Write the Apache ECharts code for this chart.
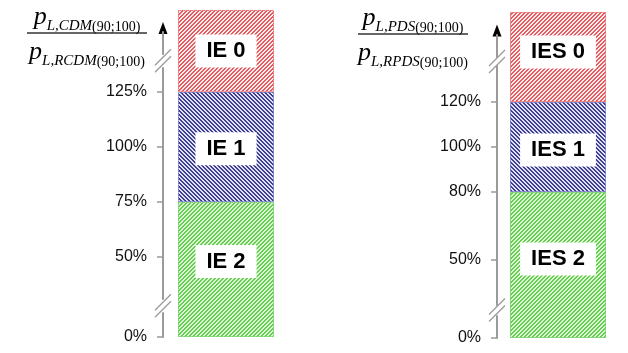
<!DOCTYPE html>
<html>
<head>
<meta charset="utf-8">
<script src="https://cdn.jsdelivr.net/npm/echarts@6/dist/echarts.min.js"></script>
<style>
html,body{margin:0;padding:0;background:#fff;}
#chart{width:628px;height:353px;}
</style>
</head>
<body>
<div id="chart"></div>
<script>
// ---- data ----
const leftNames = ['IE 2', 'IE 1', 'IE 0'];
const leftValues = [75, 50, 75];          // stacked segments: 0-75, 75-125, 125-200
const leftTicks = [0, 50, 75, 100, 125];
const leftBreaks = [[11, 31, 6.4], [136, 180, 6.2]];
const leftMax = 190;

const rightNames = ['IES 2', 'IES 1', 'IES 0'];
const rightValues = [80, 40, 80];         // 0-80, 80-120, 120-200
const rightTicks = [0, 50, 80, 100, 120];
const rightBreaks = [[10, 30, 4.9], [136, 180, 4.0]];
const rightMax = 190;

const leftTitleNum = '{p|p}{s|L,CDM}{n|(90;100)}';
const leftTitleDen = '{p|p}{s|L,RCDM}{n|(90;100)}';
const rightTitleNum = '{p|p}{s|L,PDS}{n|(90;100)}';
const rightTitleDen = '{p|p}{s|L,RPDS}{n|(90;100)}';

// ---- hatch patterns ----
function hatch(line, bg, dir) {
  const c = document.createElement('canvas');
  c.width = 4; c.height = 4;
  const ctx = c.getContext('2d');
  for (let x = 0; x < 4; x++) {
    for (let y = 0; y < 4; y++) {
      const k = dir === '/' ? (x + y) % 4 : ((x - y) % 4 + 4) % 4;
      ctx.fillStyle = (k === 0 || k === 1) ? line : bg;
      ctx.fillRect(x, y, 1, 1);
    }
  }
  return { image: c, repeat: 'repeat' };
}
const segStyles = [
  { fill: hatch('#66cc55', '#dcf7d2', '/'), border: '#3cbf2c' },
  { fill: hatch('#40408e', '#e0e0f4', '\\'), border: '#4a4ac8' },
  { fill: hatch('#e65a62', '#fdeeee', '/'), border: '#e03a3a' }
];
const labelOffsets = { 'IE 2': -8, 'IE 1': 2, 'IE 0': 0, 'IES 2': -6, 'IES 1': 3, 'IES 0': -5 };

const chart = echarts.init(document.getElementById('chart'), null, { renderer: 'canvas' });

function makeYAxis(gi, ticks, breaks, max) {
  return {
    type: 'value', gridIndex: gi, min: 0, max: max,
    breaks: breaks.map(b => ({ start: b[0], end: b[1], gap: b[2] })),
    breakArea: { show: false },
    splitLine: { show: false },
    axisLine: { show: true, lineStyle: { color: '#9a9a9a', width: 2 } },
    axisTick: { show: true, inside: false, length: 6, customValues: ticks, lineStyle: { color: '#9a9a9a', width: 1.5 } },
    axisLabel: {
      customValues: ticks, formatter: v => v + '%', margin: 16,
      fontSize: 16, color: '#111', fontFamily: 'Liberation Sans, Arial, sans-serif'
    }
  };
}

function makeSeries(names, values, gi) {
  return names.map((n, i) => ({
    type: 'bar', name: n, stack: 'st' + gi, xAxisIndex: gi, yAxisIndex: gi,
    data: [values[i]], barWidth: 96, clip: false,
    itemStyle: { color: segStyles[i].fill, borderColor: segStyles[i].border, borderType: 'dotted', borderWidth: 1 },
    label: {
      show: true, position: 'inside', formatter: '{a}', offset: [0, labelOffsets[n]],
      backgroundColor: '#fff', padding: [6, 11, 5, 11],
      fontSize: 22, fontWeight: 'bold', color: '#000', fontFamily: 'Liberation Sans, Arial, sans-serif'
    }
  }));
}

chart.setOption({
  animation: false,
  backgroundColor: '#fff',
  grid: [
    { left: 163, width: 126, top: 32, bottom: 16 },
    { left: 497, width: 122, top: 34.5, bottom: 15 }
  ],
  xAxis: [
    { type: 'category', gridIndex: 0, data: ['L'], show: false },
    { type: 'category', gridIndex: 1, data: ['R'], show: false }
  ],
  yAxis: [
    makeYAxis(0, leftTicks, leftBreaks, leftMax),
    makeYAxis(1, rightTicks, rightBreaks, rightMax)
  ],
  series: makeSeries(leftNames, leftValues, 0).concat(makeSeries(rightNames, rightValues, 1))
});

// ---- decorations: axis arrows, break marks, fraction titles ----
const rich = {
  p: { fontFamily: 'Liberation Serif, Times New Roman, serif', fontStyle: 'italic', fontSize: 26, lineHeight: 30, verticalAlign: 'top', color: '#111' },
  s: { fontFamily: 'Liberation Serif, Times New Roman, serif', fontStyle: 'italic', fontSize: 15, lineHeight: 8, verticalAlign: 'bottom', color: '#111' },
  n: { fontFamily: 'Liberation Serif, Times New Roman, serif', fontSize: 14, lineHeight: 8, verticalAlign: 'bottom', color: '#111' }
};
function decorations(gi, axisX, breaks, max, title) {
  const els = [];
  const topY = chart.convertToPixel({ yAxisIndex: gi }, max);
  els.push({ type: 'polygon', shape: { points: [[axisX - 4.5, topY + 2], [axisX + 4.5, topY + 2], [axisX, topY - 10]] }, style: { fill: '#000' } });
  breaks.forEach(b => {
    const y1 = chart.convertToPixel({ yAxisIndex: gi }, b[0]);
    const y2 = chart.convertToPixel({ yAxisIndex: gi }, b[1]);
    const cy = (y1 + y2) / 2;
    [-3.5, 3.5].forEach(d => {
      els.push({ type: 'line', shape: { x1: axisX - 8, y1: cy + d + 8, x2: axisX + 8, y2: cy + d - 8 }, style: { stroke: '#9a9a9a', lineWidth: 1.3 } });
    });
  });
  els.push({ type: 'line', shape: { x1: title.x1, y1: title.ly, x2: title.x2, y2: title.ly }, style: { stroke: '#333', lineWidth: 1.5 } });
  const cx = (title.x1 + title.x2) / 2;
  els.push({ type: 'text', x: cx, y: title.ly - 29, style: { text: title.num, rich: rich, align: 'center', verticalAlign: 'top' } });
  els.push({ type: 'text', x: cx, y: title.ly + 6, style: { text: title.den, rich: rich, align: 'center', verticalAlign: 'top' } });
  return els;
}
const graphics = decorations(0, 163, leftBreaks, leftMax, { x1: 27, x2: 147, ly: 33, num: leftTitleNum, den: leftTitleDen })
  .concat(decorations(1, 497, rightBreaks, rightMax, { x1: 358, x2: 468, ly: 34, num: rightTitleNum, den: rightTitleDen }));
chart.setOption({ graphic: graphics });
</script>
</body>
</html>
